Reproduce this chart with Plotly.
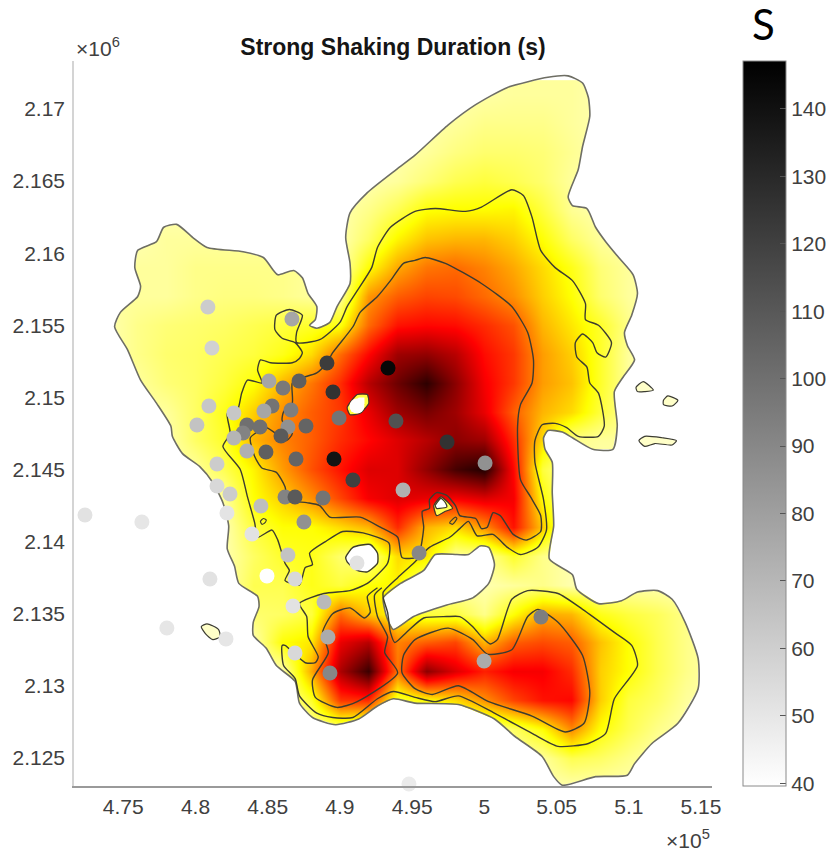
import plotly.graph_objects as go

# All map coordinates are in km (axis labels show them in x10^5 m and x10^6 m).
x_ticks = [475, 480, 485, 490, 495, 500, 505, 510, 515]
x_tick_labels = ["4.75", "4.8", "4.85", "4.9", "4.95", "5", "5.05", "5.1", "5.15"]
y_ticks = [2125, 2130, 2135, 2140, 2145, 2150, 2155, 2160, 2165, 2170]
y_tick_labels = ["2.125", "2.13", "2.135", "2.14", "2.145", "2.15", "2.155", "2.16", "2.165", "2.17"]
x_range = [471.59, 515.76]
y_range = [2123.05, 2173.33]
cbar_ticks = [40, 50, 60, 70, 80, 90, 100, 110, 120, 130, 140]
c_range = [39.6, 147.1]

# Duration field, seconds, on a 2 km grid
grid_x = [474, 476, 478, 480, 482, 484, 486, 488, 490, 492, 494, 496, 498, 500, 502, 504, 506, 508, 510, 512, 514, 516]
grid_y = [2171, 2169, 2167, 2165, 2163, 2161, 2159, 2157, 2155, 2153, 2151, 2149, 2147, 2145, 2143, 2141, 2139, 2137, 2135, 2133, 2131, 2129, 2127, 2125, 2123]
grid_z = [
    [48,48,48,48,48,48,48,48,48,48,48,48,48,49,50,50,50,48,48,48,48,48],
    [48,48,48,48,48,48,48,48,48,48,48,48,50,52,52,52,50,48,48,48,48,48],
    [48,48,48,48,48,48,48,48,48,48,48,50,53,55,55,54,51,48,48,48,48,48],
    [48,48,48,48,48,48,48,48,48,48,50,54,58,60,58,55,50,48,48,48,48,48],
    [48,48,48,48,48,48,48,48,48,52,58,66,67,67,68,60,51,48,48,48,48,48],
    [48,48,50,50,50,50,50,48,48,56,68,76,78,78,74,66,56,50,48,48,48,48],
    [50,50,50,52,52,52,52,50,48,66,80,88,90,86,80,72,64,54,50,48,48,48],
    [50,50,50,52,53,53,52,50,50,83,92,96,95,90,84,74,66,55,50,48,48,48],
    [48,52,54,55,56,58,60,62,65,90,104,106,105,100,94,78,70,62,52,48,48,48],
    [48,52,55,56,58,60,64,72,90,106,122,124,118,105,98,82,74,62,50,48,48,48],
    [48,50,54,56,60,66,78,88,100,118,130,140,125,108,98,82,76,62,50,50,50,48],
    [48,48,50,56,64,74,84,92,98,110,122,128,122,110,92,78,72,60,50,50,50,48],
    [48,48,48,56,62,78,86,92,100,106,112,118,125,122,100,72,52,50,50,50,50,48],
    [48,48,48,50,58,68,82,94,104,112,112,124,136,142,106,60,48,48,48,48,48,48],
    [48,48,48,48,50,66,74,84,96,108,112,110,108,112,108,66,48,48,48,48,48,48],
    [48,48,48,48,48,60,66,66,72,78,100,78,72,84,104,75,48,48,48,48,48,48],
    [48,48,48,48,48,56,62,64,55,50,72,70,50,50,62,52,48,48,48,48,48,48],
    [48,48,48,48,48,58,58,64,60,66,68,50,48,48,50,52,48,48,48,48,48,48],
    [48,48,48,48,48,55,56,60,90,75,65,60,60,52,66,80,78,64,60,57,52,48],
    [48,48,48,48,48,48,66,70,110,118,86,92,96,78,92,95,92,76,66,58,52,48],
    [48,48,48,48,48,48,48,80,120,138,88,125,112,102,108,108,100,74,66,58,52,48],
    [48,48,48,48,48,48,48,62,98,100,60,66,72,84,96,104,106,74,60,56,50,48],
    [48,48,48,48,48,48,48,48,52,48,48,48,48,48,56,66,85,66,58,52,48,48],
    [48,48,48,48,48,48,48,48,48,48,48,48,48,48,48,50,58,56,52,48,48,48],
    [48,48,48,48,48,48,48,48,48,48,48,48,48,48,48,48,48,48,48,48,48,48],
]
heat_scale = [[0, "#ffffff"], [0.25, "#ffff00"], [0.625, "#ff0000"], [1, "#000000"]]

# Recording stations
station_x = [480.86,481.14,486.68,480.93,480.10,482.66,485.09,486.06,487.17,489.10,489.52,493.33,491.18,489.94,493.88,485.30,484.74,486.61,483.56,484.47,483.29,482.66,486.40,485.92,487.65,483.56,484.88,486.96,489.59,490.90,494.37,486.20,486.89,488.83,481.49,481.49,482.39,484.53,482.18,487.51,483.91,497.42,500.05,495.48,486.40,484.95,486.89,491.18,486.75,488.90,489.17,486.89,489.31,472.35,476.29,481.00,478.02,482.11,494.78,503.92,499.98]
station_y = [2156.27,2153.43,2155.44,2149.40,2148.09,2148.92,2151.14,2150.65,2151.14,2152.39,2150.37,2152.04,2149.40,2148.57,2148.36,2149.40,2149.06,2149.13,2148.09,2147.95,2147.53,2147.18,2147.95,2147.32,2148.02,2146.28,2146.21,2145.73,2145.73,2144.27,2143.58,2143.09,2143.09,2143.02,2145.38,2143.86,2143.30,2142.47,2141.98,2141.36,2140.53,2146.91,2145.45,2139.21,2139.07,2137.62,2137.41,2138.52,2135.53,2135.81,2133.38,2132.27,2130.89,2141.84,2141.36,2137.41,2134.01,2133.25,2123.19,2134.77,2131.72]
station_v = [61,59,77,63,65,63,77,96,107,122,126,144,40,98,113,98,77,94,100,100,92,71,86,109,105,73,107,105,139,120,73,92,109,98,61,56,61,67,51,86,52,126,86,90,65,40,56,52,52,69,75,56,90,52,50,52,50,50,48,94,75]

outer_x = [495.2,497.5,499.4,501.6,504.4,505.8,506.8,507.2,507.3,506.8,506.5,505.8,506.1,507.1,507.7,508.4,509.3,510.3,510.6,510.2,509.7,509.9,510.4,509.6,509.0,509.2,508.9,507.5,506.1,505.4,504.4,504.1,504.2,504.7,504.7,504.8,504.5,506.1,506.4,507.9,509.5,510.6,512.0,513.0,513.9,514.8,514.8,513.4,511.6,510.4,509.9,507.7,505.4,504.8,504.0,502.1,500.7,498.2,495.2,493.7,492.6,491.3,489.7,488.1,487.2,486.9,485.6,484.9,484.0,484.0,484.4,484.3,483.0,482.7,482.2,482.3,481.9,481.2,480.3,479.1,478.4,478.3,477.3,476.2,475.3,474.4,474.8,476.0,476.2,475.8,476.0,477.3,477.8,478.7,479.8,480.8,483.3,484.7,485.4,485.7,486.8,487.4,487.8,488.4,488.3,487.9,488.4,489.3,489.8,490.7,490.7,490.4,490.7,491.9,493.9,495.2]
outer_y = [2166.8,2168.9,2170.3,2171.5,2172.2,2172.3,2171.8,2170.8,2169.5,2167.4,2165.8,2163.9,2163.3,2163.1,2161.8,2160.8,2159.7,2158.5,2157.2,2155.7,2154.5,2153.6,2152.6,2151.4,2150.4,2148.0,2146.4,2146.4,2147.2,2147.6,2147.7,2147.2,2146.4,2145.5,2143.4,2141.1,2138.8,2137.7,2136.7,2135.7,2135.9,2136.5,2136.6,2136.0,2134.4,2131.9,2129.8,2127.4,2126.0,2124.6,2123.8,2123.7,2123.1,2123.7,2125.1,2126.5,2127.7,2128.7,2128.8,2129.1,2128.6,2127.7,2127.3,2127.8,2128.8,2130.3,2131.4,2132.6,2133.5,2134.4,2135.5,2136.2,2137.1,2138.3,2139.5,2141.1,2142.7,2144.1,2145.2,2146.1,2147.3,2148.0,2149.6,2151.2,2153.3,2154.9,2155.9,2157.0,2157.7,2159.0,2160.2,2160.8,2161.8,2162.0,2161.1,2160.4,2160.1,2159.7,2158.8,2158.5,2158.8,2158.3,2157.2,2156.3,2155.4,2155.0,2154.8,2155.2,2156.3,2157.9,2159.3,2161.1,2162.8,2164.2,2165.8,2166.8]

lake_x = [493.0,494.2,495.8,496.6,498.1,498.9,499.7,500.3,500.7,500.3,499.2,497.4,495.1,493.7,493.3,493.1,493.0]
lake_y = [2136.1,2137.1,2138.0,2139.1,2139.1,2139.1,2139.7,2139.6,2138.4,2137.1,2136.1,2135.6,2134.8,2133.9,2134.6,2135.3,2136.1]
pond_x = [490.4,490.9,492.1,492.6,492.6,491.9,491.2,490.5,490.4]
pond_y = [2138.9,2139.6,2139.8,2139.2,2138.5,2137.9,2138.0,2138.6,2138.9]

mid_x = [495.2,496.6,498.7,499.8,501.9,502.7,503.3,503.9,504.9,506.1,507.0,507.0,507.9,508.8,508.4,507.8,507.5,506.8,506.3,506.4,507.1,507.3,507.9,508.3,507.9,506.5,505.7,504.9,504.0,503.5,503.5,504.1,504.3,503.7,502.5,501.6,500.6,499.5,498.9,498.3,497.6,496.2,495.1,494.0,493.0,493.0,493.3,493.5,493.8,494.6,495.8,497.4,498.3,499.2,499.8,500.4,500.9,501.9,503.0,505.1,506.8,509.0,510.2,510.6,509.0,508.4,507.2,505.1,503.3,500.7,498.2,496.6,495.2,493.7,492.6,490.9,489.5,488.4,487.2,486.9,486.1,486.0,486.2,487.6,488.3,488.5,487.8,487.7,487.2,488.9,490.7,491.9,493.3,493.4,491.6,490.2,489.0,487.9,488.1,487.6,487.2,486.2,486.5,486.2,485.7,485.3,484.3,484.1,483.6,483.1,481.9,482.4,482.2,482.9,483.2,483.6,484.6,484.3,484.5,485.2,486.7,487.2,487.4,486.9,486.0,485.5,485.6,486.5,487.4,487.0,487.0,488.6,490.0,490.5,491.2,492.2,492.6,493.5,495.2]
mid_y = [2162.9,2163.1,2162.9,2163.2,2164.4,2164.0,2162.5,2160.2,2159.0,2158.1,2156.5,2155.4,2155.0,2153.8,2152.8,2153.1,2153.8,2154.4,2153.8,2152.8,2152.1,2151.0,2150.3,2148.0,2147.3,2147.3,2147.9,2148.2,2148.1,2147.0,2145.5,2142.9,2140.8,2139.6,2139.1,2139.6,2140.5,2140.4,2141.4,2140.9,2140.3,2139.6,2138.5,2137.5,2136.5,2136.1,2135.1,2133.7,2133.0,2133.7,2134.7,2134.8,2134.8,2134.1,2133.4,2132.9,2133.2,2136.0,2136.6,2136.4,2135.3,2133.7,2132.8,2131.4,2129.1,2126.7,2126.0,2125.8,2126.7,2128.1,2129.3,2128.9,2129.2,2129.6,2129.1,2127.8,2127.8,2128.1,2129.3,2130.5,2131.4,2132.8,2132.8,2131.6,2131.6,2132.0,2133.4,2134.8,2135.7,2136.4,2136.6,2137.1,2138.5,2139.9,2140.6,2140.7,2140.0,2139.2,2138.4,2138.2,2137.0,2137.3,2138.0,2138.5,2140.1,2140.8,2140.3,2141.3,2143.1,2145.0,2146.6,2147.5,2148.9,2149.1,2150.3,2151.2,2151.0,2151.9,2152.6,2152.4,2152.4,2152.7,2153.1,2153.8,2154.1,2154.7,2155.7,2156.1,2155.7,2154.5,2153.8,2154.0,2155.2,2156.3,2157.4,2159.0,2160.4,2161.8,2162.9]

north_x = [495.9,497.3,499.8,501.9,503.0,503.4,503.3,502.5,502.3,502.5,503.2,503.9,503.9,502.9,502.0,501.1,500.6,500.2,499.8,499.4,498.3,498.0,497.4,496.7,496.2,496.2,495.7,495.8,495.6,495.3,494.3,494.0,492.8,491.4,489.3,488.6,487.7,486.4,486.2,485.6,484.6,484.1,483.8,484.9,485.7,486.3,486.7,486.0,486.1,486.7,486.7,487.2,488.4,489.1,489.5,490.9,491.4,492.6,493.5,494.4,495.2,495.9]
north_y = [2159.7,2159.3,2157.9,2156.3,2154.5,2152.6,2151.0,2149.5,2148.0,2144.3,2143.1,2141.8,2140.7,2140.1,2140.5,2141.8,2142.0,2141.0,2140.9,2141.6,2141.8,2142.5,2143.2,2143.4,2142.9,2142.3,2142.1,2141.0,2139.6,2138.9,2138.9,2140.3,2141.0,2141.7,2141.7,2142.5,2142.7,2142.9,2143.8,2144.8,2145.1,2145.9,2147.2,2147.9,2147.4,2147.0,2147.5,2148.4,2149.0,2149.6,2151.0,2151.3,2151.7,2152.4,2153.1,2154.9,2155.9,2157.0,2158.1,2159.3,2159.5,2159.7]
sw_x = [492.6,491.9,492.1,491.7,490.7,489.5,488.8,489.2,488.1,488.3,489.8,491.2,494.0,493.1,493.3,492.6,492.4,492.9]
sw_y = [2136.8,2136.2,2135.1,2134.7,2135.4,2135.0,2133.7,2132.3,2130.4,2129.2,2128.5,2128.9,2130.9,2132.3,2133.4,2134.8,2136.3,2136.8]
east_x = [495.2,494.4,494.3,495.2,496.4,498.2,500.3,503.3,505.6,506.9,507.3,506.8,505.1,503.7,503.0,501.9,500.2,499.2,497.5,495.2]
east_y = [2133.2,2132.1,2130.9,2129.8,2129.4,2130.0,2128.9,2127.9,2126.8,2127.4,2129.5,2132.1,2134.4,2135.3,2134.8,2132.5,2132.2,2133.2,2134.0,2133.2]

islands = [
    ([480.4,480.8,481.6,481.7,481.2,480.7,480.4], [2134.1,2134.3,2133.9,2133.4,2133.2,2133.6,2134.1]),
    ([510.5,511.0,511.7,511.1,510.6,510.5], [2150.7,2151.1,2150.5,2150.4,2150.4,2150.7]),
    ([512.4,512.7,513.4,513.0,512.4,512.4], [2149.8,2150.1,2149.8,2149.4,2149.5,2149.8]),
    ([510.7,511.1,512.3,513.3,513.0,511.8,511.1,510.7], [2147.0,2147.3,2147.2,2147.0,2146.7,2146.8,2146.6,2147.0]),
]
small_rings = [
    ([497.6,498.0,498.1,497.8,497.6], [2141.3,2141.7,2141.6,2141.2,2141.3]),
    ([484.5,484.7,484.9,484.8,484.6,484.5], [2141.4,2141.6,2141.5,2141.3,2141.2,2141.4]),
]
spot_a_x = [490.5,491.2,491.9,492.0,491.4,490.7,490.5]
spot_a_y = [2149.3,2150.2,2150.2,2149.6,2148.9,2148.8,2149.3]
spot_a_in_x = [490.7,491.3,491.7,491.7,491.3,490.8,490.7]
spot_a_in_y = [2149.3,2150.0,2150.0,2149.6,2149.0,2149.0,2149.3]
spot_b_x = [496.5,497.0,497.5,497.8,497.3,496.7,496.5]
spot_b_y = [2142.5,2143.1,2142.7,2142.3,2142.1,2141.8,2142.5]
spot_b_in_x = [496.6,497.0,497.3,497.4,496.9,496.7,496.6]
spot_b_in_y = [2142.5,2143.0,2142.7,2142.4,2142.3,2142.3,2142.5]

fig = go.Figure()
fig.add_trace(go.Heatmap(x=grid_x, y=grid_y, z=grid_z, zmin=c_range[0], zmax=c_range[1],
                         colorscale=heat_scale, zsmooth="best", showscale=False, hoverinfo="skip"))

# Everything outside the island outline is white
pad = 6
mask_x = [x_range[0]-pad, x_range[1]+pad, x_range[1]+pad, x_range[0]-pad, x_range[0]-pad, None] + outer_x
mask_y = [y_range[0]-pad, y_range[0]-pad, y_range[1]+pad, y_range[1]+pad, y_range[0]-pad, None] + outer_y
fig.add_trace(go.Scatter(x=mask_x, y=mask_y, mode="lines", fill="toself", fillcolor="white",
                         line=dict(width=0), hoverinfo="skip", showlegend=False))


def patch(xs, ys, fill):
    fig.add_trace(go.Scatter(x=xs, y=ys, mode="lines", fill="toself", fillcolor=fill,
                             line=dict(width=0), hoverinfo="skip", showlegend=False))


def curve(xs, ys, color, width=1.4):
    fig.add_trace(go.Scatter(x=xs, y=ys, mode="lines", hoverinfo="skip", showlegend=False,
                             line=dict(color=color, width=width, shape="spline", smoothing=0.6)))


patch(lake_x, lake_y, "white")
patch(pond_x, pond_y, "white")
for xs, ys in islands:
    patch(xs, ys, "#ffffc8")
patch(spot_a_x, spot_a_y, "#ffff40")
patch(spot_a_in_x, spot_a_in_y, "white")
patch(spot_b_x, spot_b_y, "#ffff50")
patch(spot_b_in_x, spot_b_in_y, "white")

gray_line = "#6e6e64"
dark_line = "#3c3c30"
curve(outer_x, outer_y, gray_line, 1.6)
curve(lake_x, lake_y, gray_line, 1.6)
curve(pond_x, pond_y, dark_line)
curve(mid_x, mid_y, dark_line)
curve(north_x, north_y, dark_line)
curve(sw_x, sw_y, dark_line)
curve(east_x, east_y, dark_line)
for xs, ys in islands:
    curve(xs, ys, dark_line, 1.2)
for xs, ys in small_rings:
    curve(xs, ys, dark_line, 1.2)
curve(spot_a_x, spot_a_y, dark_line, 1.2)
curve(spot_b_x, spot_b_y, dark_line, 1.2)
curve(spot_b_in_x, spot_b_in_y, dark_line, 1.2)

tick_font = dict(family="Liberation Sans", size=21, color="#404040")
fig.add_trace(go.Scatter(
    x=station_x, y=station_y, mode="markers", cliponaxis=False, hoverinfo="skip", showlegend=False,
    marker=dict(size=15, color=station_v, cmin=c_range[0], cmax=c_range[1],
                colorscale=[[0, "#ffffff"], [1, "#000000"]], line=dict(width=0),
                colorbar=dict(x=1.0486, xanchor="left", xref="paper", xpad=0, y=0, yanchor="bottom", ypad=0,
                              len=1, lenmode="fraction", thickness=43, thicknessmode="pixels",
                              outlinecolor="#8a8a8a", outlinewidth=1, tickvals=cbar_ticks,
                              ticks="inside", ticklen=6, tickcolor="#555555", tickwidth=1,
                              tickfont=tick_font)),
))

fig.update_layout(
    width=830, height=852, autosize=False,
    margin=dict(l=74, r=118, t=61, b=66, autoexpand=False),
    paper_bgcolor="white", plot_bgcolor="white",
    title=dict(text="<b>Strong Shaking Duration (s)</b>", x=0.5, xref="paper", xanchor="center",
               y=0.945, yref="container", yanchor="middle",
               font=dict(family="Liberation Sans", size=23, color="#151515")),
    xaxis=dict(range=x_range, tickvals=x_ticks, ticktext=x_tick_labels, tickfont=tick_font,
               showgrid=False, zeroline=False, showline=True, linecolor="#9a9a9a", linewidth=1.5,
               ticks="", ticklabelstandoff=1, automargin=False),
    yaxis=dict(range=y_range, tickvals=y_ticks, ticktext=y_tick_labels, tickfont=tick_font,
               showgrid=False, zeroline=False, showline=True, linecolor="#d4d4d4", linewidth=1.5,
               ticks="", ticklabelstandoff=3, automargin=False),
    annotations=[
        dict(text="×10<sup>6</sup>", xref="paper", yref="paper", x=0.0, y=1.0, xanchor="left", yanchor="bottom",
             showarrow=False, font=tick_font, xshift=0, yshift=-1),
        dict(text="×10<sup>5</sup>", xref="paper", yref="paper", x=1.0, y=0.0, xanchor="right", yanchor="top",
             showarrow=False, font=tick_font, yshift=-38),
        dict(text="S", xref="paper", yref="paper", x=1.0815, y=1.0, xanchor="center", yanchor="bottom",
             showarrow=False, font=dict(family="Lato", size=42, color="#000000"), yshift=10),
    ],
)

fig.write_html("out.html", config=dict(displayModeBar=False),
               post_script="document.body.style.margin='0';document.body.style.overflow='hidden';")
